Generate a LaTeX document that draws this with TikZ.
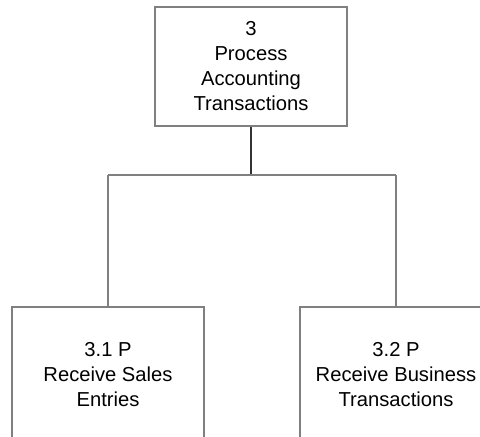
\documentclass[tikz,border=0pt]{standalone}
\usepackage{fontspec}
\setmainfont{Liberation Sans}
\begin{document}
\begin{tikzpicture}[x=1pt,y=-1pt,
  procbox/.style={draw=black!50, line width=1.5pt, inner sep=0pt,
    minimum width=192pt, align=center,
    font=\fontsize{20.2}{25}\selectfont},
  link/.style={draw=black!50, line width=1.5pt},
  stem/.style={draw=black!80, line width=1.5pt}]
  \useasboundingbox (0,0) rectangle (480,437);
  \clip (0,0) rectangle (480,437);
  % parent process
  \node[procbox, minimum height=119pt] (top) at (251,66.5)
    {3\\Process\\Accounting\\Transactions};
  % child processes
  \node[procbox, minimum height=136pt] (left) at (108,375)
    {3.1 P\\Receive Sales\\Entries};
  \node[procbox, minimum height=136pt] (right) at (396,375)
    {3.2 P\\Receive Business\\Transactions};
  % branch points
  \coordinate (j) at (251,175);
  \coordinate (jl) at (108,175);
  \coordinate (jr) at (396,175);
  \draw[stem] (top.south) -- (j);
  \draw[link] (jl) -- (jr);
  \draw[link] (jl) -- (left.north);
  \draw[link] (jr) -- (right.north);
\end{tikzpicture}
\end{document}
